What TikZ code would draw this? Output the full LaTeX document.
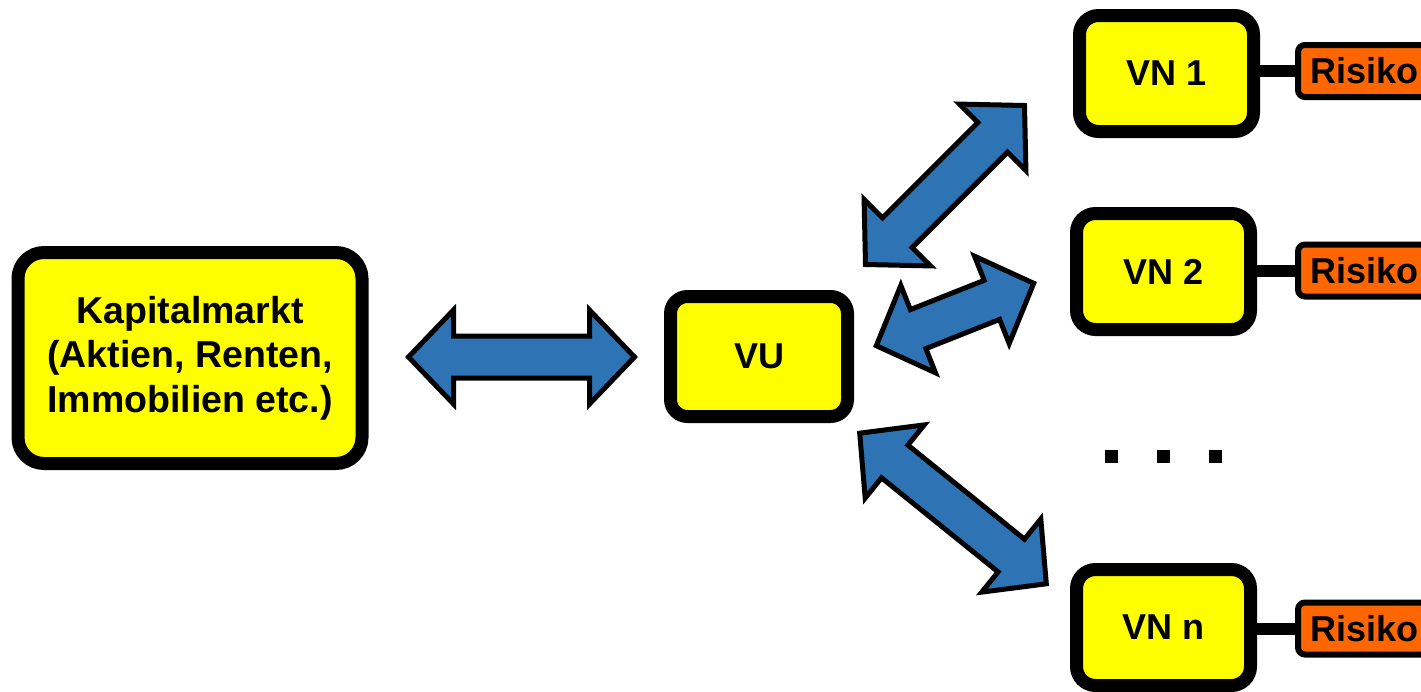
\documentclass[tikz,border=0pt]{standalone}
\usepackage{fontspec}
\setmainfont{Liberation Sans}
\usetikzlibrary{calc}
\definecolor{boxyellow}{RGB}{255,255,0}
\definecolor{risorange}{RGB}{255,102,0}
\definecolor{arrblue}{RGB}{46,116,181}
\newcommand\drawdbl[2]{%
  \coordinate (ha) at ($(#1)!45pt!(#2)$);
  \coordinate (hb) at ($(#2)!45pt!(#1)$);
  \filldraw[dblarrow] (#1) -- ($(ha)!47pt!90:(#2)$) -- ($(ha)!21pt!90:(#2)$)
    -- ($(hb)!21pt!-90:(#1)$) -- ($(hb)!47pt!-90:(#1)$) -- (#2)
    -- ($(hb)!47pt!90:(#1)$) -- ($(hb)!21pt!90:(#1)$)
    -- ($(ha)!21pt!-90:(#2)$) -- ($(ha)!47pt!-90:(#2)$) -- cycle;}
\begin{document}
\begin{tikzpicture}[x=1pt,y=-1pt,
  box/.style={draw=black, fill=boxyellow, line width=13pt, rounded corners=19pt,
    font=\bfseries\fontsize{36}{44.5}\selectfont, align=center, inner sep=0pt,
    minimum width=174pt, minimum height=116pt},
  risiko/.style={draw=black, fill=risorange, line width=6pt, rounded corners=7pt,
    font=\bfseries\fontsize{36}{44.5}\selectfont, inner xsep=12pt, inner ysep=0pt,
    minimum height=52pt, anchor=west},
  conn/.style={draw=black, line width=12pt},
  dblarrow/.style={fill=arrblue, draw=black, line width=5pt, line join=miter},
  dotsq/.style={fill=black, minimum size=13pt, inner sep=0pt}]
\useasboundingbox (0,0) rectangle (1421,691);
\clip (0,0) rectangle (1421,691);
% main boxes
\node[box, minimum width=344pt, minimum height=211pt, rounded corners=26pt,
  font=\bfseries\fontsize{37.5}{44.5}\selectfont] (km) at (190,358)
  {Kapitalmarkt\\(Aktien, Renten,\\Immobilien etc.)};
\node[box, minimum width=177pt, minimum height=120pt, rounded corners=17pt] (vu) at (759,356.5) {VU};
\node[box] (vn1) at (1166.5,73.5) {VN 1};
\node[box] (vn2) at (1163.5,271.5) {VN 2};
\node[box] (vnn) at (1163.5,627.5) {VN n};
% risk boxes
\node[risiko] (r1) at (1295,71) {Risiko};
\node[risiko] (r2) at (1295,270.5) {Risiko};
\node[risiko] (rn) at (1295,628.5) {Risiko};
% connectors to risks
\draw[conn] (r1.west -| vn1.east) -- (r1.west);
\draw[conn] (r2.west -| vn2.east) -- (r2.west);
\draw[conn] (rn.west -| vnn.east) -- (rn.west);
% dots
\node[dotsq] (d1) at (1111.5,456.5) {};
\node[dotsq] (d2) at (1163.5,456.5) {};
\node[dotsq] (d3) at (1215.5,456.5) {};
% double arrows
\coordinate (a0s) at (408.5,357);
\coordinate (a0e) at (634.5,357);
\coordinate (a1s) at (865.5,264.5);
\coordinate (a1e) at (1024.5,105.5);
\coordinate (a2s) at (876.3,345.7);
\coordinate (a2e) at (1033.7,283.3);
\coordinate (a3s) at (859.7,433.2);
\coordinate (a3e) at (1046.3,583.8);
\drawdbl{a0s}{a0e}
\drawdbl{a1s}{a1e}
\drawdbl{a2s}{a2e}
\drawdbl{a3s}{a3e}
\end{tikzpicture}
\end{document}
